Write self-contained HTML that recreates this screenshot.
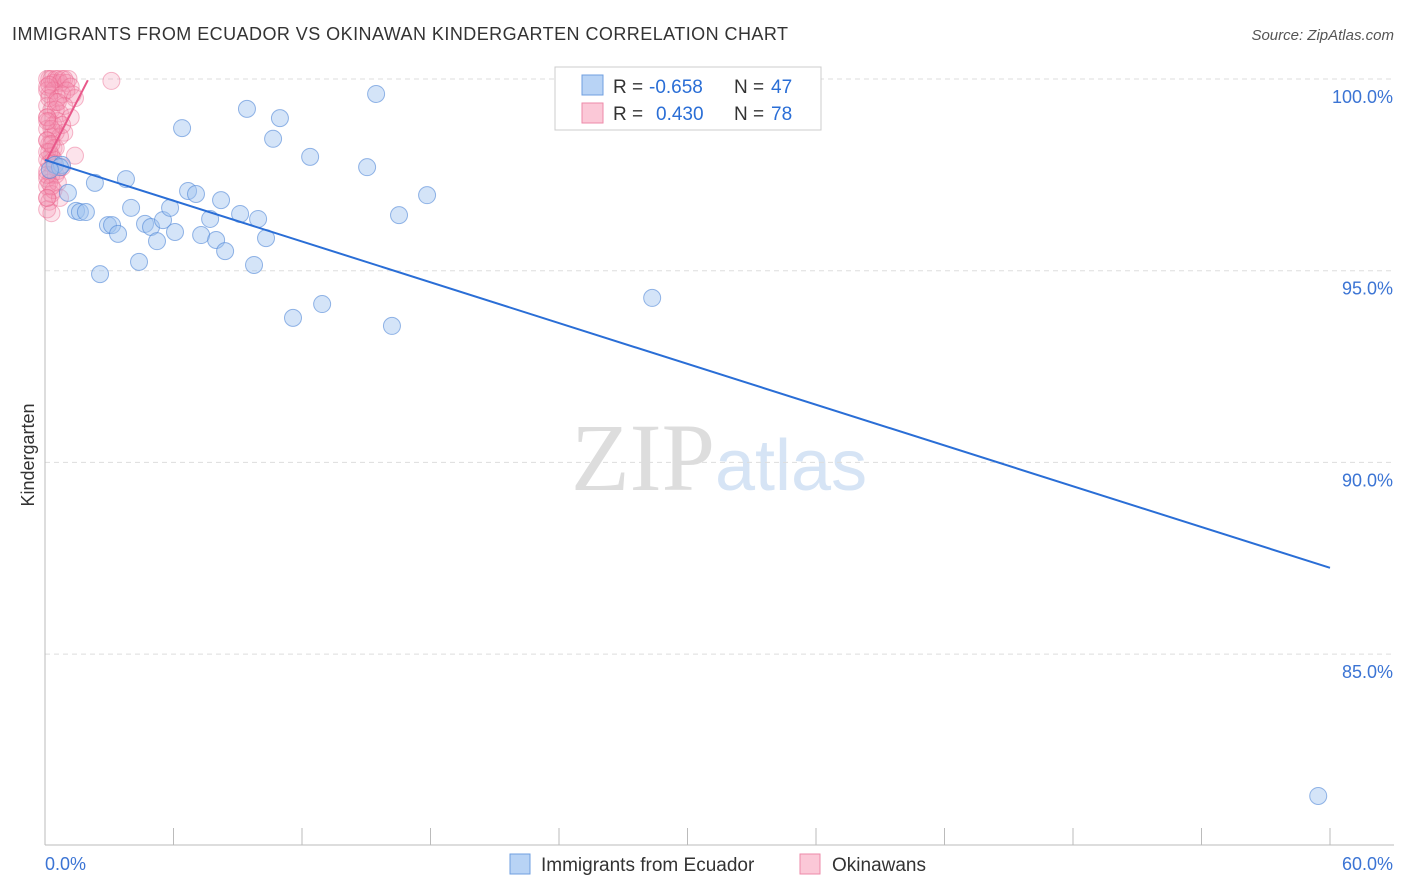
<!DOCTYPE html>
<html><head><meta charset="utf-8"><style>
body{margin:0;background:#fff;font-family:"Liberation Sans",sans-serif;}
svg{display:block}
</style></head><body>
<svg width="1406" height="892" id="chart">
<text x="12" y="40" font-size="18" fill="#333" textLength="776">IMMIGRANTS FROM ECUADOR VS OKINAWAN KINDERGARTEN CORRELATION CHART</text>
<text x="1394" y="40" font-size="15" fill="#555" text-anchor="end" font-style="italic">Source: ZipAtlas.com</text>
<text x="34" y="455" font-size="18" fill="#333" text-anchor="middle" transform="rotate(-90 34 455)">Kindergarten</text>
<text x="715" y="490" font-size="96" fill="#ddd" text-anchor="end" font-family="Liberation Serif,serif">ZIP</text>
<text x="715" y="490" font-size="72" fill="#d6e4f5">atlas</text>
<g id="grid"></g><g id="axes"></g><g id="pink"></g><g id="blue"></g>
<g>
<rect x="555" y="67" width="266" height="63" fill="#fff" stroke="#ccc"/>
<rect x="582" y="75" width="21" height="20" fill="#b8d3f5" stroke="#6f9fe0"/>
<text x="613" y="93" font-size="19" fill="#333">R =</text>
<text x="649" y="93" font-size="19" fill="#2a6ed6">-0.658</text>
<text x="734" y="93" font-size="19" fill="#333">N =</text>
<text x="771" y="93" font-size="19" fill="#2a6ed6">47</text>
<rect x="582" y="103" width="21" height="20" fill="#fbc8d7" stroke="#ee8aa8"/>
<text x="613" y="120" font-size="19" fill="#333">R =</text>
<text x="656" y="120" font-size="19" fill="#2a6ed6">0.430</text>
<text x="734" y="120" font-size="19" fill="#333">N =</text>
<text x="771" y="120" font-size="19" fill="#2a6ed6">78</text>
</g>
<g>
<rect x="510" y="854" width="20" height="20" fill="#b8d3f5" stroke="#6f9fe0"/>
<text x="541" y="871" font-size="19" fill="#333">Immigrants from Ecuador</text>
<rect x="800" y="854" width="20" height="20" fill="#fbc8d7" stroke="#ee8aa8"/>
<text x="832" y="871" font-size="19" fill="#333">Okinawans</text>
</g>
</svg>
<script>
const blueX=[0.47,0.79,1.07,2.33,1.45,1.63,1.91,2.57,2.94,3.13,3.41,3.78,4.02,4.39,4.67,4.95,5.23,5.51,5.84,6.07,6.40,6.68,7.05,7.29,7.71,7.99,8.22,8.41,9.11,9.43,9.76,9.95,10.32,10.65,10.97,11.58,12.38,12.94,15.04,15.46,16.20,16.53,17.84,28.35,59.45,0.70,0.23];
const blueY=[97.76,97.76,97.03,97.29,96.56,96.53,96.53,94.91,96.19,96.19,95.96,97.39,96.64,95.23,96.22,96.14,95.77,96.32,96.64,96.01,98.72,97.08,97.00,95.93,96.35,95.80,96.84,95.51,96.48,99.22,95.15,96.35,95.85,98.44,98.98,93.77,97.97,94.13,97.70,99.61,93.56,96.45,96.97,94.29,81.30,97.70,97.63];
const pinkX=[0.1,0.2,0.3,0.4,0.5,0.6,0.7,0.8,0.9,1.0,1.1,1.2,1.3,3.1,0.1,0.2,0.4,0.6,0.8,1.0,1.4,0.1,0.3,0.5,0.7,0.9,1.2,0.1,0.2,0.4,0.6,0.9,0.1,0.3,0.5,0.8,0.1,0.2,0.4,0.7,0.1,0.3,0.5,0.1,0.2,0.4,0.6,0.1,0.3,1.4,0.1,0.2,0.5,0.8,0.1,0.3,0.6,0.1,0.2,0.4,0.1,0.3,0.7,0.1,0.2,0.5,0.1,0.3,0.1,0.2,0.4,0.1,0.3,0.1,0.2,0.6,0.1,0.3];
const pinkY=[100,100,100,99.9,100,100,99.9,100,100,99.9,100,99.8,99.6,99.95,99.7,99.6,99.7,99.5,99.6,99.7,99.5,99.3,99.2,99.4,99.1,99.3,99.0,99.0,98.9,98.8,98.9,98.6,98.7,98.5,98.6,98.8,98.4,98.3,98.2,98.5,98.1,98.0,98.2,97.9,97.8,97.9,97.6,97.6,97.5,98.0,97.4,97.3,97.5,97.7,97.2,97.0,97.3,96.9,96.8,97.1,96.6,96.5,96.9,99.8,99.5,99.2,99.0,98.7,98.4,98.1,97.8,97.5,97.2,96.9,99.85,99.4,98.9,98.3];
const yTicks=[100,95,90,85];
const X=v=>45+v/60*1285, Y=v=>79+(100-v)/5*191.7;
const ns="http://www.w3.org/2000/svg";
function mk(p,t,a){const e=document.createElementNS(ns,t);for(const k in a)e.setAttribute(k,a[k]);p.appendChild(e);return e;}
const grid=document.getElementById('grid'),axes=document.getElementById('axes');
yTicks.forEach(t=>{
const l=mk(grid,'line',{x1:45,x2:1394,y1:Y(t),y2:Y(t),stroke:'#ddd','stroke-dasharray':'5,4'});


const tx=mk(axes,'text',{x:1393,y:Y(t)+24,'font-size':18,fill:'#3b74d4','text-anchor':'end'});tx.textContent=t.toFixed(1)+'%';


});
mk(axes,'line',{x1:45,x2:45,y1:70,y2:845,stroke:'#bbb'});
mk(axes,'line',{x1:45,x2:1394,y1:845,y2:845,stroke:'#bbb'});
for(let i=0;i<=10;i++){mk(axes,'line',{x1:X(i*6),x2:X(i*6),y1:828,y2:845,stroke:'#bbb'});}
let t0=mk(axes,'text',{x:45,y:870,'font-size':18,fill:'#3b74d4'});t0.textContent='0.0%';


let t1=mk(axes,'text',{x:1393,y:870,'font-size':18,fill:'#3b74d4','text-anchor':'end'});t1.textContent='60.0%';


const pg=document.getElementById('pink'),bg=document.getElementById('blue');
pinkX.forEach((x,i)=>{const c=mk(pg,'circle',{cx:X(x),cy:Y(pinkY[i]),r:8.5,fill:'rgba(244,143,177,0.25)',stroke:'rgba(236,100,140,0.45)'});

});
blueX.forEach((x,i)=>{const c=mk(bg,'circle',{cx:X(x),cy:Y(blueY[i]),r:8.5,fill:'rgba(160,196,240,0.45)',stroke:'rgba(80,135,215,0.6)'});

});
const bl=mk(bg,'line',{x1:X(0),y1:Y(97.89),x2:X(60),y2:Y(87.25),stroke:'#2a6ed6','stroke-width':2});


const pl=mk(pg,'line',{x1:X(0.09),y1:Y(97.89),x2:X(2.0),y2:Y(99.97),stroke:'#e8588a','stroke-width':2});


</script>
</body></html>
